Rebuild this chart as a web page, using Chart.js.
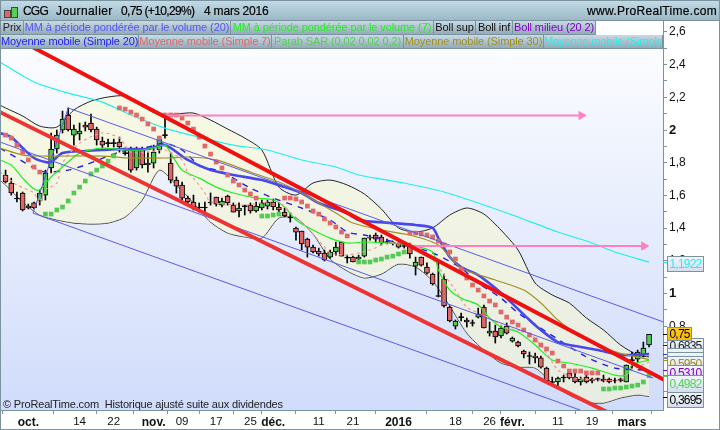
<!DOCTYPE html>
<html>
<head>
<meta charset="utf-8">
<script src="https://cdn.jsdelivr.net/npm/chart.js@4"></script>
<style>
body { margin: 0; background: #fff; font-family: "Liberation Sans", Arial, sans-serif; }
#wrap { position: relative; width: 720px; height: 430px; overflow: hidden; }
#bg { position: absolute; left: 1px; top: 21px; width: 662px; height: 389px; background: linear-gradient(#fff, #d0dcfb); }
canvas { position: absolute; left: 0; top: 0; }
#frame { position: absolute; left: 0; top: 0; width: 718px; height: 428px; border: 1px solid #7b929f; pointer-events: none; }
#head { position: absolute; left: 0; top: 0; width: 720px; height: 20px; border-bottom: 1px solid #7b929f; background: linear-gradient(#c3dde8, #9cb8c6); font-size: 12px; color: #000; line-height: 22px; -webkit-text-stroke: 0.2px #000; }
#head span { position: absolute; top: 0; white-space: nowrap; }
.tab { position: absolute; height: 13px; line-height: 13px; font-size: 11px; letter-spacing: -0.1px; text-align: center; white-space: nowrap; overflow: hidden; border-right: 1px solid #7b929f; border-bottom: 1px solid #7b929f; background: linear-gradient(#c8dbe4, #93aab8); }
#note { position: absolute; left: 3px; top: 398px; font-size: 11px; line-height: 13px; color: #222; white-space: pre; letter-spacing: -0.17px; }
.ic { position: absolute; border: 1px solid #444; }
</style>
</head>
<body>
<div id="wrap">
  <div id="bg"></div>
  <canvas id="chart" width="720" height="430"></canvas>
  <div id="head">
    <div class="ic" style="left:4px;top:10px;width:5px;height:6px;background:#e06666"></div>
    <div class="ic" style="left:11px;top:7px;width:5px;height:9px;background:#55d055"></div>
    <span style="left:23px;letter-spacing:-0.8px">CGG</span>
    <span style="left:56px;letter-spacing:0.4px">Journalier</span>
    <span style="left:121px;letter-spacing:-0.65px">0,75 (+10,29%)</span>
    <span style="left:204px;letter-spacing:-0.2px">4 mars 2016</span>
    <span style="right:3px;letter-spacing:0.3px">www.ProRealTime.com</span>
  </div>
  <div id="tabs"></div>
  <div id="note">© ProRealTime.com  Historique ajusté suite aux dividendes</div>
  <div id="frame"></div>
</div>
<script>
// candles, one per trading day (x = day number)
const opens = [1.725,1.676,1.584,1.615,1.523,1.554,1.566,1.602,1.768,1.884,2.000,2.092,1.969,1.976,2.031,2.043,2.006,1.933,1.923,1.923,1.927,1.862,1.878,1.768,1.884,1.786,1.798,1.878,1.972,1.798,1.694,1.664,1.584,1.560,1.529,1.529,1.560,1.590,1.541,1.596,1.541,1.505,1.538,1.541,1.505,1.523,1.535,1.560,1.529,1.498,1.468,1.401,1.382,1.333,1.284,1.260,1.248,1.223,1.254,1.315,1.223,1.223,1.211,1.229,1.339,1.358,1.346,1.318,1.312,1.309,1.294,1.297,1.168,1.223,1.162,1.119,0.988,1.089,0.917,0.801,0.859,0.838,0.823,0.856,0.917,0.758,0.771,0.740,0.801,0.709,0.703,0.648,0.621,0.618,0.606,0.544,0.462,0.459,0.489,0.514,0.489,0.459,0.489,0.477,0.480,0.477,0.477,0.471,0.477,0.459,0.596,0.599,0.624,0.685];
const highs = [1.755,1.706,1.621,1.621,1.547,1.560,1.633,1.755,1.982,2.000,2.116,2.135,2.031,2.043,2.049,2.098,2.018,1.957,1.945,1.945,1.957,1.890,1.896,1.896,1.896,1.865,1.908,1.957,2.092,1.859,1.713,1.682,1.596,1.602,1.554,1.560,1.615,1.590,1.584,1.602,1.554,1.554,1.541,1.554,1.560,1.572,1.572,1.578,1.554,1.523,1.492,1.407,1.382,1.339,1.297,1.278,1.266,1.266,1.315,1.315,1.235,1.229,1.235,1.339,1.358,1.370,1.358,1.333,1.321,1.315,1.303,1.309,1.223,1.223,1.187,1.125,1.193,1.119,0.924,0.838,0.881,0.850,0.838,0.911,0.930,0.826,0.807,0.801,0.820,0.734,0.709,0.654,0.642,0.636,0.618,0.550,0.489,0.489,0.501,0.520,0.514,0.489,0.501,0.483,0.483,0.501,0.483,0.483,0.483,0.563,0.642,0.654,0.703,0.750];
const lows = [1.676,1.602,1.560,1.505,1.517,1.517,1.541,1.572,1.737,1.859,1.982,1.994,1.908,1.939,1.994,1.988,1.908,1.890,1.896,1.896,1.865,1.847,1.743,1.755,1.768,1.743,1.768,1.859,1.951,1.676,1.615,1.572,1.547,1.511,1.498,1.498,1.541,1.535,1.529,1.541,1.498,1.468,1.480,1.492,1.498,1.511,1.517,1.511,1.498,1.468,1.437,1.327,1.266,1.223,1.248,1.229,1.199,1.217,1.235,1.229,1.187,1.193,1.205,1.223,1.327,1.315,1.297,1.303,1.297,1.278,1.278,1.217,1.113,1.168,1.119,1.052,0.979,0.917,0.826,0.783,0.832,0.795,0.801,0.850,0.789,0.740,0.697,0.728,0.752,0.703,0.673,0.606,0.569,0.575,0.544,0.459,0.446,0.428,0.459,0.477,0.453,0.440,0.453,0.453,0.465,0.459,0.453,0.453,0.459,0.459,0.544,0.581,0.612,0.673];
const closes = [1.682,1.615,1.578,1.511,1.535,1.523,1.615,1.737,1.884,1.969,2.067,2.000,2.006,1.994,2.018,2.000,1.939,1.908,1.917,1.917,1.896,1.856,1.755,1.884,1.786,1.798,1.865,1.945,1.966,1.694,1.657,1.584,1.560,1.529,1.523,1.523,1.554,1.547,1.566,1.554,1.498,1.523,1.532,1.505,1.535,1.554,1.560,1.529,1.511,1.474,1.462,1.376,1.303,1.284,1.254,1.242,1.205,1.254,1.284,1.229,1.217,1.193,1.223,1.339,1.346,1.333,1.309,1.312,1.306,1.284,1.288,1.242,1.193,1.174,1.125,1.058,0.982,0.924,0.832,0.832,0.853,0.826,0.817,0.875,0.789,0.771,0.734,0.789,0.758,0.728,0.679,0.630,0.615,0.606,0.550,0.465,0.456,0.483,0.483,0.483,0.459,0.477,0.459,0.465,0.474,0.465,0.459,0.465,0.465,0.563,0.590,0.642,0.667,0.750];

// bollinger bands, read every third day
const bollDays = [-1,0,3,6,9,12,15,18,21,24,27,30,33,36,39,42,45,48,51,54,57,60,63,66,69,72,75,78,81,84,87,90,93,96,99,102,105,108,111,113];
const bollUpper = [2.153,2.135,2.086,2.024,2.018,2.123,2.177,2.202,2.208,2.147,2.092,2.098,2.104,2.061,2.006,1.951,1.878,1.651,1.602,1.676,1.694,1.664,1.609,1.517,1.401,1.376,1.401,1.480,1.523,1.486,1.388,1.266,1.064,0.991,0.942,0.850,0.777,0.685,0.624,0.612];
const bollLower = [1.694,1.664,1.560,1.480,1.450,1.431,1.425,1.431,1.468,1.572,1.755,1.664,1.554,1.437,1.370,1.346,1.339,1.462,1.462,1.364,1.211,1.138,1.095,1.119,1.180,1.162,1.076,0.924,0.758,0.654,0.575,0.550,0.544,0.453,0.379,0.336,0.330,0.361,0.379,0.3695];

const middleDays = [-1,2,5,7,11,14,20,25,28,31,34,38,43,47,52,57,60,63,69,75,80,83,87,90,95,102,107,113];
const bollMiddle = [1.890,1.829,1.768,1.743,1.755,1.786,1.865,1.896,1.920,1.878,1.786,1.743,1.645,1.584,1.523,1.450,1.376,1.358,1.309,1.248,1.156,1.064,0.972,0.881,0.765,0.612,0.544,0.531];

const vwma20Days = [-1,1,3,5,7,8,10,14,17,21,25,28,32,36,40,45,49,52,55,60,62,68,72,75,76,78,80,83,86,88,92,94,97,101,104,108,113];
const vwma20 = [1.982,1.957,1.890,1.829,1.804,1.804,1.859,1.872,1.878,1.884,1.884,1.908,1.817,1.755,1.725,1.694,1.651,1.615,1.554,1.492,1.450,1.431,1.419,1.401,1.339,1.223,1.162,1.113,1.034,0.972,0.838,0.777,0.703,0.673,0.654,0.624,0.630];

const vwma7Days = [-1,1,3,5,6,8,10,13,17,21,24,26,28,29,31,34,37,40,44,47,49,51,54,57,60,63,67,71,75,76,78,80,83,85,87,90,93,96,99,103,107,109,110,113];
const vwma7 = [1.817,1.786,1.706,1.639,1.633,1.713,1.774,1.859,1.890,1.878,1.878,1.890,1.908,1.859,1.755,1.706,1.651,1.615,1.584,1.572,1.529,1.450,1.388,1.339,1.309,1.315,1.309,1.297,1.254,1.144,1.021,0.972,0.930,0.850,0.795,0.765,0.685,0.593,0.575,0.544,0.501,0.501,0.563,0.593];

const sma7Days = [-1,2,5,6,7,9,10,13,17,20,22,25,28,31,32,33,35,36,42,46,48,50,53,56,57,60,64,67,71,74,76,79,81,85,88,92,95,97,100,104,108,110,113];
const sma7 = [1.743,1.664,1.615,1.554,1.633,1.676,1.798,1.920,1.982,1.951,1.865,1.865,1.878,1.817,1.737,1.706,1.615,1.560,1.541,1.560,1.560,1.498,1.401,1.284,1.248,1.235,1.266,1.309,1.309,1.248,1.162,1.021,0.917,0.850,0.789,0.758,0.636,0.532,0.483,0.471,0.471,0.532,0.581];

const sma30Days = [-1,3,7,17,22,28,32,37,43,48,52,58,61,66,71,76,80,86,91,94,97,100,106,113];
const sma30 = [1.890,1.847,1.841,1.841,1.829,1.829,1.835,1.817,1.743,1.682,1.615,1.492,1.431,1.388,1.358,1.297,1.156,1.083,1.021,0.942,0.838,0.758,0.654,0.595];

const smaLongDays = [-1,5,11,17,22,28,34,40,46,52,58,62,66,70,77,83,89,97,103,107,113];
const smaLong = [2.416,2.294,2.226,2.171,2.092,2.012,1.957,1.908,1.878,1.817,1.774,1.725,1.700,1.676,1.621,1.554,1.480,1.376,1.309,1.254,1.192];

// parabolic SAR, split by side
const sarRedDays = [0,1,2,3,4,5,6,20,21,22,23,24,25,26,27,28,29,30,31,32,33,34,35,36,37,38,39,40,41,42,43,44,49,50,51,52,53,54,55,56,57,58,59,60,71,72,73,74,75,76,77,78,79,80,81,82,83,84,85,86,87,88,89,90,91,92,93,94,95,96,97,98,99,100,101,102,103,104];
const sarRed = [1.969,1.951,1.908,1.865,1.817,1.774,1.743,2.135,2.128,2.110,2.092,2.067,2.037,2.006,1.951,2.092,2.092,2.092,2.073,2.043,2.006,1.957,1.902,1.853,1.804,1.768,1.725,1.688,1.664,1.633,1.609,1.584,1.584,1.584,1.578,1.560,1.535,1.505,1.486,1.456,1.431,1.407,1.376,1.352,1.370,1.370,1.364,1.358,1.346,1.321,1.297,1.254,1.211,1.150,1.095,1.052,1.021,0.985,0.954,0.930,0.887,0.856,0.826,0.807,0.777,0.746,0.716,0.685,0.661,0.636,0.587,0.557,0.526,0.526,0.526,0.514,0.514,0.514];
const sarGreenDays = [7,8,9,10,11,12,13,14,15,16,17,18,19,45,46,47,48,62,63,64,65,66,67,68,69,70,105,106,107,108,109,110,111,112,113];
const sarGreen = [1.486,1.486,1.511,1.529,1.566,1.615,1.651,1.688,1.731,1.755,1.780,1.810,1.841,1.474,1.474,1.480,1.486,1.193,1.193,1.193,1.205,1.211,1.223,1.229,1.242,1.254,0.416,0.416,0.422,0.422,0.428,0.434,0.440,0.459,0.498];

// hand drawn objects: [day, price] ends
const redUpper = [[-1,2.612],[116,0.465]];
const redLower = [[-1,2.110],[106,0.269]];
const channelTop = [[11,2.135],[116,0.82]];
const channelMid = [[-1,1.927],[113.7,0.483]];
const channelLow = [[4.83,1.492],[100.9,0.287]];
const channelLink = [[4.83,1.492],[11,2.135]];
const arrowHigh = [[28,2.089],[101.1,2.089]];
const arrowLow = [[71,1.290],[112.1,1.290]];

// axes
const priceTicks = [0.4,0.5,0.6,0.7,0.8,0.9,1,1.1,1.2,1.3,1.4,1.5,1.6,1.7,1.8,1.9,2,2.1,2.2,2.3,2.4,2.5,2.6];
const dateTicks = [4,13,19,26,31,37,43,47,55,61,69,79,85,89,97,103,110];
const dateLabels = ['oct.','14','22','nov.','09','17','25','déc.','11','21','2016','18','26','févr.','11','19','mars'];
const boldDates = ['oct.','nov.','déc.','2016','févr.','mars'];

// tags on the right axis
const tagLabels = ['1,1922','0,6835','','','0,5950','0,5310','0,4982','0,3695','0,75'];
const tagValues = [1.1922,0.6835,0.63,0.61,0.595,0.531,0.4982,0.3695,0.75];
const tagColors = ['#22eeee','#222','#3030e0','#22ee22','#a09020','#8000c8','#55d055','#000','#000'];
const tagTops = [256,338,348,352,356,365,375,392,327];
const tagHeights = [15,14,14,14,14,14,17,15,13];

const tabRows = [
  [['Prix','#222',1,23],['MM à période pondérée par le volume (20)','#5555f0',24,207],['MM à période pondérée par le volume (7)','#20f020',231,203],['Boll sup','#111',434,42],['Boll inf','#111',476,37],['Boll milieu (20 2)','#8000c8',513,83]],
  [['Moyenne mobile (Simple 20)','#2020f0',1,138],['Moyenne mobile (Simple 7)','#e06868',139,133],['Parab SAR (0,02 0,02 0,2)','#55d055',272,132],['Moyenne mobile (Simple 30)','#a09020',404,140],['Moyenne mobile (Simple','#22f0f0',544,119]]
];
tabRows.forEach(function (row, r) {
  row.forEach(function (t) {
    const el = document.createElement('div');
    el.className = 'tab';
    el.textContent = t[0];
    el.style.cssText = 'left:' + t[2] + 'px;top:' + (21 + r * 14) + 'px;width:' + (t[3] - 1) + 'px;color:' + t[1];
    document.getElementById('tabs').appendChild(el);
  });
});

function pts(days, vals) {
  return days.map(function (d, i) { return { x: d, y: vals[i] }; });
}
function ends(pair) {
  return pair.map(function (p) { return { x: p[0], y: p[1] }; });
}
function line(data, color, width, order, extra) {
  return Object.assign({ type: 'line', data: data, borderColor: color, borderWidth: width, pointRadius: 0, tension: 0.25, fill: false, order: order }, extra || {});
}
function trend(pair, color, width, order) {
  return line(ends(pair), color, width, order, { tension: 0 });
}
function arrow(pair) {
  return line(ends(pair), '#ff80c0', 2, 2, { tension: 0, pointRadius: [0, 5.5], pointStyle: 'triangle', pointRotation: 90, pointBackgroundColor: '#ff80c0', pointBorderWidth: 0 });
}
function squares(days, vals, color) {
  return { type: 'scatter', data: pts(days, vals), pointStyle: 'rect', pointRadius: 3.3, pointBackgroundColor: color, pointBorderWidth: 0, showLine: false, order: 4 };
}

const candleDays = opens.map(function (o, i) { return i; });
const bodyColors = opens.map(function (o, i) {
  if (Math.abs(closes[i] - o) < 0.007) return '#000';
  return closes[i] > o ? '#55c855' : '#e06666';
});

const axisTags = {
  id: 'axisTags',
  afterDraw: function (chart) {
    const ctx = chart.ctx, y = chart.scales.y;
    ctx.save();
    tagValues.forEach(function (v, i) {
      ctx.fillStyle = tagColors[i];
      ctx.fillRect(663, Math.round(y.getPixelForValue(v)), 5, 1);
    });
    tagLabels.forEach(function (t, i) {
      const top = tagTops[i], h = tagHeights[i], gold = t === '0,75', w = gold ? 24 : 36;
      const g = ctx.createLinearGradient(0, top, 0, top + h);
      g.addColorStop(0, gold ? '#ffd020' : '#f4f6fb');
      g.addColorStop(1, gold ? '#f8b800' : '#d6dfee');
      ctx.fillStyle = g;
      ctx.fillRect(667.5, top + 0.5, w, h);
      ctx.strokeStyle = '#7b929f';
      ctx.lineWidth = 1;
      ctx.strokeRect(667.5, top + 0.5, w, h);
      ctx.fillStyle = tagColors[i];
      ctx.font = '12px "Liberation Sans", Arial, sans-serif';
      ctx.letterSpacing = '-0.8px';
      ctx.textBaseline = 'middle';
      ctx.textAlign = 'left';
      ctx.fillText(t, 669.5, top + h / 2 + 1.5);
    });
    ctx.restore();
  }
};

new Chart(document.getElementById('chart'), {
  type: 'bar',
  data: {
    datasets: [
      line(pts(bollDays, bollUpper), '#222', 1, 9, { fill: '+1', backgroundColor: 'rgba(250,250,205,0.55)' }),
      line(pts(bollDays, bollLower), '#222', 1, 9),
      { type: 'bar', data: candleDays.map(function (d, i) { return { x: d, y: [lows[i], highs[i]] }; }), backgroundColor: '#000', barThickness: 1, grouped: false, order: 7 },
      { type: 'bar', data: candleDays.map(function (d, i) { return { x: d, y: [opens[i], closes[i]] }; }), backgroundColor: bodyColors, borderColor: '#000', borderWidth: 1, borderSkipped: false, barThickness: 5, grouped: false, order: 6 },
      line(pts(smaLongDays, smaLong), '#22eeee', 1.2, 5),
      line(pts(sma30Days, sma30), '#a09020', 1.2, 5),
      line(pts(sma7Days, sma7), '#f09a9a', 1.2, 5, { borderDash: [3, 3] }),
      line(pts(vwma7Days, vwma7), '#22ee22', 1.2, 5),
      line(pts(vwma20Days, vwma20), '#4848e8', 2.6, 5),
      line(pts(middleDays, bollMiddle), '#2020e0', 1.4, 5, { borderDash: [6, 6] }),
      squares(sarRedDays, sarRed, '#e06868'),
      squares(sarGreenDays, sarGreen, '#55c855'),
      trend(channelLink, '#5a5aec', 1, 3),
      trend(channelTop, '#5a5aec', 1, 3),
      trend(channelMid, '#5a5aec', 1, 3),
      trend(channelLow, '#5a5aec', 1, 3),
      arrow(arrowHigh),
      arrow(arrowLow),
      trend(redLower, '#ee3333', 4, 1),
      trend(redUpper, '#f01010', 4, 1)
    ]
  },
  options: {
    responsive: false,
    animation: false,
    devicePixelRatio: 1,
    layout: { autoPadding: false, padding: { left: 1, top: 21, right: 0, bottom: 1 } },
    plugins: { legend: { display: false }, tooltip: { enabled: false } },
    scales: {
      x: {
        type: 'linear',
        min: -0.8,
        max: 115.45,
        offset: false,
        afterBuildTicks: function (s) { s.ticks = dateTicks.map(function (v) { return { value: v }; }); },
        afterFit: function (s) { s.height = 19; s.paddingLeft = 0; s.paddingRight = 0; },
        border: { color: '#7b929f' },
        grid: { drawOnChartArea: false, tickLength: 4, tickColor: '#7b929f' },
        ticks: {
          autoSkip: false,
          maxRotation: 0,
          padding: 1,
          color: '#111',
          font: function (c) {
            const bold = c.tick && boldDates.indexOf(dateLabels[dateTicks.indexOf(c.tick.value)]) >= 0;
            return { family: '"Liberation Sans", Arial, sans-serif', size: bold ? 12 : 11.5, weight: bold ? 'bold' : 'normal' };
          },
          callback: function (v) { return dateLabels[dateTicks.indexOf(v)]; }
        }
      },
      y: {
        position: 'right',
        min: 0.2875,
        max: 2.667,
        afterBuildTicks: function (s) { s.ticks = priceTicks.map(function (v) { return { value: v }; }); },
        afterFit: function (s) { s.width = 57; s.paddingTop = 0; s.paddingBottom = 0; },
        border: { color: '#7b929f' },
        grid: { drawOnChartArea: false, tickLength: 4, tickColor: '#7b929f' },
        ticks: {
          autoSkip: false,
          padding: 2,
          color: '#111',
          font: function (c) {
            const round = c.tick && (c.tick.value === 1 || c.tick.value === 2);
            return { family: '"Liberation Sans", Arial, sans-serif', size: round ? 13 : 12, weight: round ? 'bold' : 'normal' };
          },
          callback: function (v) {
            if (Math.round(v * 10) % 2) return '';
            return String(v).replace('.', ',');
          }
        }
      }
    }
  },
  plugins: [axisTags]
});
</script>
</body>
</html>
